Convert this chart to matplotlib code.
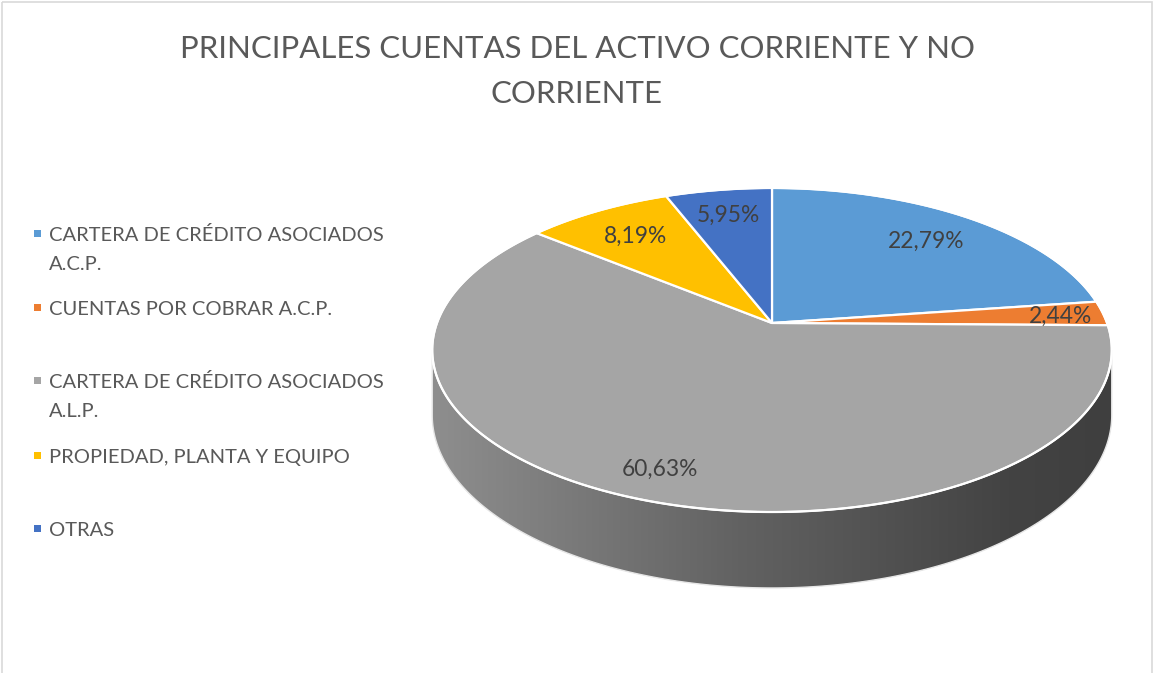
import numpy as np
import matplotlib
matplotlib.use("Agg")
import matplotlib.pyplot as plt
from matplotlib.patches import Polygon, Rectangle
from matplotlib.colors import LinearSegmentedColormap

# ---------------- data ----------------
title = "PRINCIPALES CUENTAS DEL ACTIVO CORRIENTE Y NO\nCORRIENTE"
categories = [
    "CARTERA DE CRÉDITO ASOCIADOS\nA.C.P.",
    "CUENTAS POR COBRAR A.C.P.",
    "CARTERA DE CRÉDITO ASOCIADOS\nA.L.P.",
    "PROPIEDAD, PLANTA Y EQUIPO",
    "OTRAS",
]
values = [22.79, 2.44, 60.63, 8.19, 5.95]
value_labels = ["22,79%", "2,44%", "60,63%", "8,19%", "5,95%"]
colors = ["#5B9BD5", "#ED7D31", "#A5A5A5", "#FFC000", "#4472C4"]

# ---------------- layout ----------------
W, H = 1154, 673
FONT = ["Lato", "DejaVu Sans"]
plt.rcParams["font.family"] = FONT

fig = plt.figure(figsize=(W / 100, H / 100), dpi=100)
ax = fig.add_axes([0, 0, 1, 1])
ax.set_xlim(0, W)
ax.set_ylim(H, 0)
ax.axis("off")

# chart border
ax.add_patch(Rectangle((1.5, 1.5), W - 3.5, H + 10, fill=False,
                       edgecolor="#d9d9d9", lw=1.2, zorder=0))

renderer = fig.canvas.get_renderer()


def fitted_size(txt, target_px, base=20):
    t = ax.text(0, 0, txt, fontsize=base)
    w = t.get_window_extent(renderer).width
    t.remove()
    return base * target_px / w


# ---------------- 3D pie projection ----------------
CX, CY = 772, 323         # apex of the slices on screen
A, B = 335, 157.5         # horizontal / vertical radius scale
K = 0.1667                # perspective strength
DEPTH = 63.3              # thickness of the pie


def proj(u, v, z=0.0):
    w = 1 - K * v
    return CX + A * u / w, CY + (B * v + z) / w


def pt(phi, r=1.0, z=0.0):
    # phi measured clockwise from 12 o'clock
    return proj(r * np.sin(phi), -r * np.cos(phi), z)


vals = np.array(values, dtype=float)
fr = vals / vals.sum()
bounds = np.concatenate([[0], np.cumsum(fr)]) * 2 * np.pi

# side wall (visible front part)
phi_a = np.arccos(-K)
phi_b = 2 * np.pi - phi_a
ph = np.linspace(phi_a, phi_b, 400)
top_arc = np.array([pt(p) for p in ph])
bot_arc = np.array([pt(p, z=DEPTH) for p in ph[::-1]])
side_poly = np.vstack([top_arc, bot_arc])
side_patch = Polygon(side_poly, closed=True, facecolor="none",
                     edgecolor="#e6e6e6", lw=1.0, zorder=2)
ax.add_patch(side_patch)

# horizontal shading gradient for the side wall
xs = np.linspace(0, 1, 512)
xmin, xmax = side_poly[:, 0].min(), side_poly[:, 0].max()
cmap = LinearSegmentedColormap.from_list(
    "side", [(0.0, "#8e8e8e"), (0.45, "#626262"), (0.85, "#434343"), (1.0, "#3f3f3f")])
grad = np.tile(xs, (2, 1))
im = ax.imshow(grad, cmap=cmap, extent=(xmin, xmax, side_poly[:, 1].max(),
                                        side_poly[:, 1].min()),
               aspect="auto", zorder=1.5, interpolation="bilinear")
clip = Polygon(side_poly, closed=True, transform=ax.transData)
im.set_clip_path(clip)

# top surface slices
for i in range(len(vals)):
    ph = np.linspace(bounds[i], bounds[i + 1], max(8, int(fr[i] * 600)))
    arc = np.array([pt(p) for p in ph])
    poly = np.vstack([[proj(0, 0)], arc])
    ax.add_patch(Polygon(poly, closed=True, facecolor=colors[i],
                         edgecolor="white", lw=1.6, joinstyle="round", zorder=3))

# rim outline
ph = np.linspace(0, 2 * np.pi, 800)
rim = np.array([pt(p) for p in ph])
ax.plot(rim[:, 0], rim[:, 1], color="white", lw=1.4, zorder=4)

# ---------------- data labels ----------------
label_r = [0.77, 0.87, 0.85, 0.76, 0.8]
lab_size = fitted_size("22,79%", 72) * 1.06
mid = (bounds[:-1] + bounds[1:]) / 2
for i, lab in enumerate(value_labels):
    x, y = pt(mid[i], r=label_r[i])
    ax.text(x, y + 8, lab, fontsize=lab_size, color="#404040",
            ha="center", va="baseline", zorder=5)

# ---------------- title ----------------
t_lines = title.split("\n")
t_size = fitted_size(t_lines[0], 792)
for j, line in enumerate(t_lines):
    ax.text(W / 2, 58 + 45 * j, line, fontsize=t_size, color="#595959",
            ha="center", va="baseline", zorder=5)

# ---------------- legend ----------------
leg_size = fitted_size("CARTERA DE CRÉDITO ASOCIADOS", 334)
row_y = [233, 307, 380, 455, 528]   # cap centre of first line of each entry
for i, cat in enumerate(categories):
    y0 = row_y[i]
    ax.add_patch(Rectangle((33.5, y0 - 3.5), 7, 7, facecolor=colors[i],
                           edgecolor="none", zorder=5))
    for j, line in enumerate(cat.split("\n")):
        ax.text(49, y0 + 8 + 29 * j, line, fontsize=leg_size, color="#595959",
                ha="left", va="baseline", zorder=5)

fig.savefig("out.png", dpi=100)
